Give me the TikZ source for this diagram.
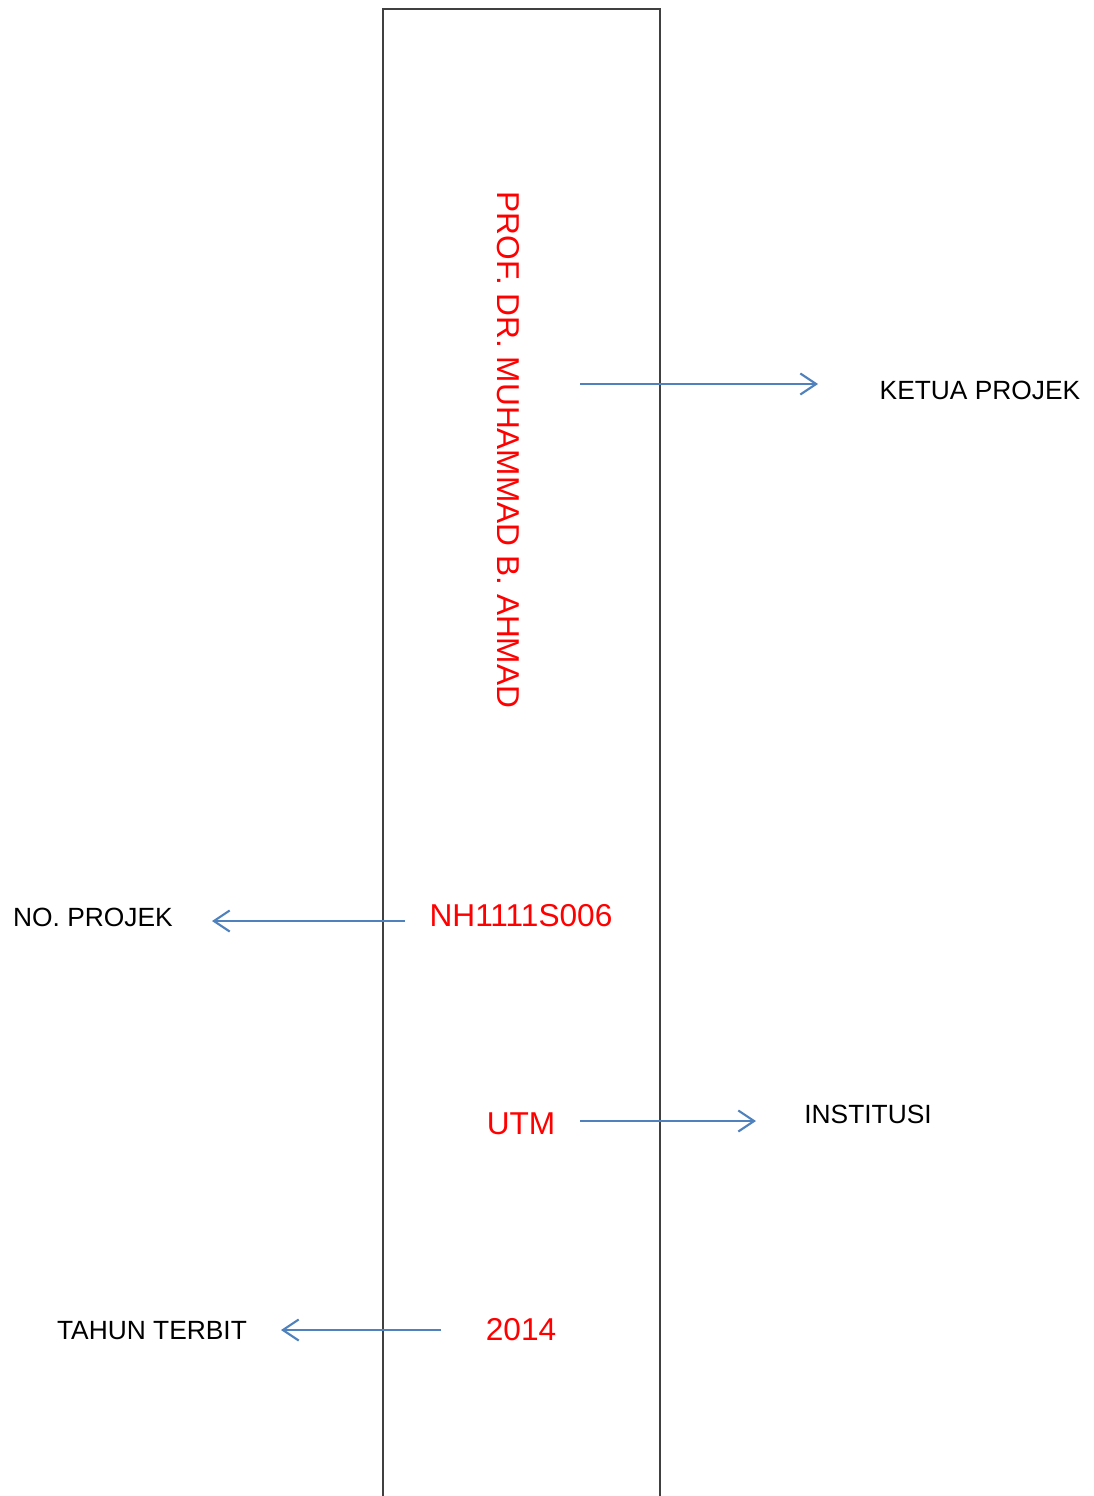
\documentclass[tikz,border=0pt]{standalone}
\usepackage{fontspec}
\setmainfont{Liberation Sans}
\usetikzlibrary{arrows.meta}
\definecolor{arrowblue}{RGB}{79,129,189}
\begin{document}
\begin{tikzpicture}[x=0.02cm, y=-0.02cm,
		redtext/.style={text=red, inner sep=0pt, font=\fontsize{18}{20}\selectfont},
		blacktext/.style={inner sep=0pt, font=\fontsize{15}{18}\selectfont},
		arr/.style={draw=arrowblue, line width=1.2pt, -{Straight Barb[length=9pt,width=12pt]}}]
		\useasboundingbox (0,0) rectangle (1094,1496);
		\draw[black!75, line width=1.1pt] (383,1496) -- (383,9) -- (660,9) -- (660,1496);

		\node[redtext, rotate=-90] (name) at (508,450) {PROF. DR. MUHAMMAD B. AHMAD};
		\node[redtext] (number) at (521,916) {NH1111S006};
		\node[redtext] (utm) at (521,1124) {UTM};
		\node[redtext] (year) at (521,1330) {2014};

		\node[blacktext] (ketua) at (980,390) {KETUA PROJEK};
		\node[blacktext] (noprojek) at (93,917) {NO. PROJEK};
		\node[blacktext] (institusi) at (868,1114) {INSTITUSI};
		\node[blacktext] (tahun) at (152,1331) {TAHUN TERBIT};

		\coordinate (a1) at (580,384);
		\coordinate (a2) at (818,384);
		\coordinate (b1) at (405,921);
		\coordinate (b2) at (212,921);
		\coordinate (c1) at (580,1121);
		\coordinate (c2) at (756,1121);
		\coordinate (d1) at (441,1330);
		\coordinate (d2) at (281,1330);

		\draw[arr] (a1) -- (a2);
		\draw[arr] (b1) -- (b2);
		\draw[arr] (c1) -- (c2);
		\draw[arr] (d1) -- (d2);
	\end{tikzpicture}
\end{document}
